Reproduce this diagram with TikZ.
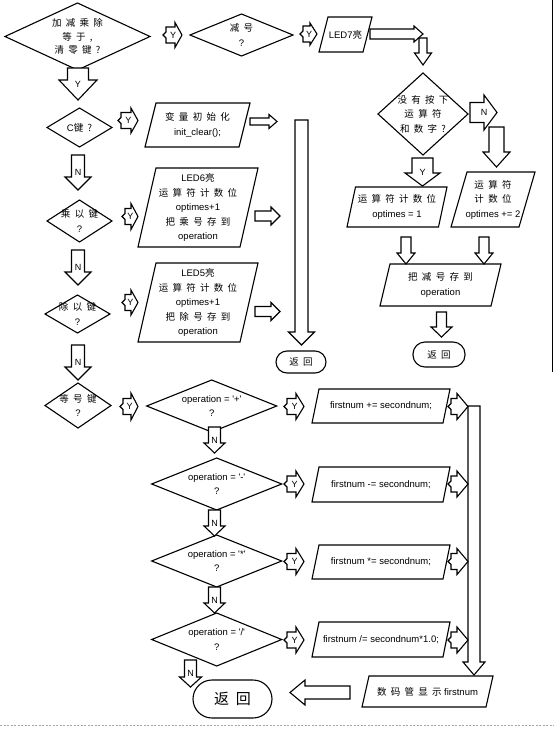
\documentclass[tikz,border=0pt]{standalone}
\usepackage{fontspec}
\setmainfont{Liberation Sans}
\newfontfamily\cjk{Noto Sans CJK SC}[WordSpace=2]
\newcommand\fs{\fontsize{9.5}{14.5}\selectfont}
\newcommand\q{\textquotesingle}
% diamond: name cx cy w h text
\newcommand\Dia[6]{\draw[ln] ({#2-#4/2},#3) -- (#2,{#3-#5/2}) -- ({#2+#4/2},#3) -- (#2,{#3+#5/2}) -- cycle;
  \node[txt] (#1) at (#2,#3) {#6};}
% parallelogram: name x1 x2 y1 y2 slant text
\newcommand\Para[7]{\draw[ln] (#2,#5) -- ({#3-#6},#5) -- (#3,#4) -- ({#2+#6},#4) -- cycle;
  \node[txt] (#1) at ({(#2+#3)/2},{(#4+#5)/2}) {#7};}
% right block arrow: name x1 x2 yc s h hl label notch
\newcommand\RA[9]{\draw[ba] ({#2+#9},{#4-#5}) -- ({#3-#7},{#4-#5}) -- ({#3-#7},{#4-#6}) -- (#3,#4) -- ({#3-#7},{#4+#6}) -- ({#3-#7},{#4+#5}) -- ({#2+#9},{#4+#5}) -- ({#2+#9},{#4+3}) -- (#2,#4) -- ({#2+#9},{#4-3}) -- cycle;
  \node[lab] (#1) at ({(#2+#3)/2+0.5},#4) {#8};}
% down block arrow: name xc y1 y2 s h hl (unused)
\newcommand\DA[8]{\draw[ba] ({#2-#5},#3) -- ({#2-#5},{#4-#7}) -- ({#2-#6},{#4-#7}) -- (#2,#4) -- ({#2+#6},{#4-#7}) -- ({#2+#5},{#4-#7}) -- ({#2+#5},#3) -- cycle;
  \node[lab] (#1) at (#2,{(#3+#4)/2+#8}) {};}
% down block arrow with label
\newcommand\DAL[8]{\draw[ba] ({#2-#5},#3) -- ({#2-#5},{#4-#7}) -- ({#2-#6},{#4-#7}) -- (#2,#4) -- ({#2+#6},{#4-#7}) -- ({#2+#5},{#4-#7}) -- ({#2+#5},#3) -- cycle;
  \node[lab] (#1) at (#2,{(#3+#4)/2}) {#8};}
% left block arrow: name xtip xtail yc s h hl
\newcommand\LA[7]{\draw[ba] (#3,{#4-#5}) -- ({#2+#7},{#4-#5}) -- ({#2+#7},{#4-#6}) -- (#2,#4) -- ({#2+#7},{#4+#6}) -- ({#2+#7},{#4+#5}) -- (#3,{#4+#5}) -- cycle;
  \coordinate (#1) at (#2,#4);}
\tikzset{
  ln/.style={draw=black, line width=1.1pt, line join=miter},
  ba/.style={draw=black, line width=1.1pt, fill=white, line join=miter},
  txt/.style={inner sep=0pt, align=center, font=\fs},
  lab/.style={inner sep=0pt, font=\fontsize{9}{10}\selectfont},
  term/.style={draw=black, line width=1.1pt, inner sep=0pt, align=center, font=\fs},
}
\begin{document}
\begin{tikzpicture}[x=1pt,y=-1pt]
\useasboundingbox (0,0) rectangle (554,737);
\fill[white] (0,0) rectangle (554,737);

% ---- top row
\Dia{d1}{77.5}{36.5}{145}{67}{{\cjk 加 减 乘 除}\\[-1pt]{\cjk 等 于 ,}\\[-1pt]{\cjk 清 零 键 ?}}
\RA{y1}{163}{182}{35}{8}{12.5}{7}{Y}{3}
\Dia{d2}{241.5}{35}{103}{42}{{\cjk 减 号}\\?}
\RA{y2}{300}{317}{34}{8}{11}{7}{Y}{3}
\Para{led7}{319}{372}{17}{52}{9}{LED7{\cjk 亮}}
\RA{a7}{370}{423}{34}{5}{8}{9}{}{0}
\DA{a7d}{423}{38}{65}{4}{8.5}{12}{0}

% ---- right branch
\Dia{d3}{423}{114}{90}{82}{{\cjk 没 有 按 下}\\{\cjk 运 算 符}\\{\cjk 和 数 字 ?}}
\RA{n3}{470}{497}{112.5}{10}{17.5}{13}{N}{0}
\DA{n3d}{496.5}{127}{167}{7.5}{13.5}{15}{0}
\DAL{y3}{422.5}{158}{186}{10.5}{17.5}{13}{Y}
\Para{opt1}{347}{447}{187}{227}{8.5}{{\cjk 运 算 符 计 数 位}\\optimes = 1}
\Para{opt2}{451}{535}{172}{227}{16}{{\cjk 运 算 符}\\{\cjk 计 数 位}\\optimes += 2}
\DA{o1d}{406}{237}{264}{5}{9}{11}{0}
\DA{o2d}{484}{237}{264}{5}{9}{11}{0}
\Para{sub}{380}{501}{264}{306}{10}{{\cjk 把 减 号 存 到}\\operation}
\DA{subd}{441.5}{312}{337}{5}{10.5}{10}{0}
\node[term, rounded corners=12pt, minimum width=52pt, minimum height=25pt] (ret2) at (439,354.5) {\cjk 返 回};

% ---- left column
\DAL{yd1}{78}{68}{100}{10.5}{19}{20}{Y}
\Dia{dc}{79.5}{127.5}{65}{39}{C{\cjk 键 ?}}
\RA{yc}{118}{138}{120.5}{8}{12.5}{7}{Y}{3}
\Para{init}{145}{250}{103}{147}{11}{{\cjk 变 量 初 始 化}\\init\_clear();}
\RA{ai}{250}{277}{121.5}{3.5}{7}{8}{}{0}
\DAL{nc}{78}{155}{190}{6.5}{13}{13}{N}
\Dia{dm}{79.5}{221}{65}{42}{{\cjk 乘 以 键}\\?}
\RA{ym}{122}{138}{216.5}{8}{13}{7}{Y}{3}
\Para{led6}{138}{258}{168}{247}{18}{LED6{\cjk 亮}\\{\cjk 运 算 符 计 数 位}\\optimes+1\\{\cjk 把 乘 号 存 到}\\operation}
\RA{a6}{255}{280}{216}{5}{9}{9}{}{0}
\DAL{nm}{78}{250}{285}{6.5}{13}{13}{N}
\Dia{dd}{77.5}{314}{65}{38}{{\cjk 除 以 键}\\?}
\RA{yd}{122}{138}{302.5}{8}{12.5}{7}{Y}{3}
\Para{led5}{138}{258}{263}{342}{18}{LED5{\cjk 亮}\\{\cjk 运 算 符 计 数 位}\\optimes+1\\{\cjk 把 除 号 存 到}\\operation}
\RA{a5}{255}{280}{311.5}{5}{9}{9}{}{0}
\DA{big}{301.5}{120}{345}{6.5}{13}{13}{0}
\node[term, rounded corners=11pt, minimum width=50pt, minimum height=22pt] (ret1) at (301,362) {\cjk 返 回};
\DAL{nd}{78}{345}{380}{6.5}{13}{13}{N}
\Dia{de}{78}{405.5}{66}{45}{{\cjk 等 号 键}\\?}
\RA{ye}{120}{138}{406.5}{8}{13.5}{7}{Y}{3}

% ---- operation column
\Dia{op1}{211.7}{406}{130}{52}{operation = \q+\q\\?}
\Dia{op2}{216.7}{484}{130}{52}{operation = \q-\q\\?}
\Dia{op3}{216.7}{561}{130}{52}{operation = \q*\q\\?}
\Dia{op4}{216.7}{639.5}{130}{53}{operation = \q/\q\\?}
\DAL{no1}{214.5}{427}{453}{6}{10.5}{10}{N}
\DAL{no2}{214.5}{510}{536}{6}{10.5}{10}{N}
\DAL{no3}{214.5}{587}{613}{6}{10.5}{10}{N}
\DAL{no4}{190.5}{660}{687}{6}{11}{10}{N}
\node[term, rounded corners=19pt, minimum width=79pt, minimum height=38pt, font=\fontsize{15}{16}\selectfont] (ret3) at (232.5,699) {\cjk 返 回};

\RA{yo1}{284}{304}{406.5}{8}{13}{8}{Y}{3}
\RA{yo2}{284}{304}{484}{8}{13}{8}{Y}{3}
\RA{yo3}{284}{304}{561.5}{8}{13}{8}{Y}{3}
\RA{yo4}{284}{304}{640}{8}{13}{8}{Y}{3}
\Para{f1}{312}{450}{389}{423}{7}{firstnum += secondnum;}
\Para{f2}{312}{450}{467}{502}{7}{firstnum -= secondnum;}
\Para{f3}{312}{450}{545}{579}{7}{firstnum *= secondnum;}
\Para{f4}{312}{450}{622}{657}{7}{firstnum /= secondnum*1.0;}
\DA{bar}{474}{406}{675}{6}{11}{13}{0}
\RA{fa1}{448}{468}{406.5}{8}{13}{11}{}{3}
\RA{fa2}{448}{468}{484}{8}{13}{11}{}{3}
\RA{fa3}{448}{468}{561.5}{8}{13}{11}{}{3}
\RA{fa4}{448}{468}{640}{8}{13}{11}{}{3}
\Para{disp}{362}{493}{676}{707}{7}{{\cjk 数 码 管 显 示} firstnum}
\LA{back}{290}{350}{692.5}{6.5}{12.5}{15}

% ---- page edges
\coordinate (e1) at (552,0);
\coordinate (e2) at (552,372);
\draw[line width=1pt] (e1) -- (e2);
\coordinate (b1) at (0,725);
\coordinate (b2) at (554,725);
\draw[gray!70, line width=0.5pt, dash pattern=on 2pt off 1.5pt] (b1) -- (b2);
\end{tikzpicture}
\end{document}
